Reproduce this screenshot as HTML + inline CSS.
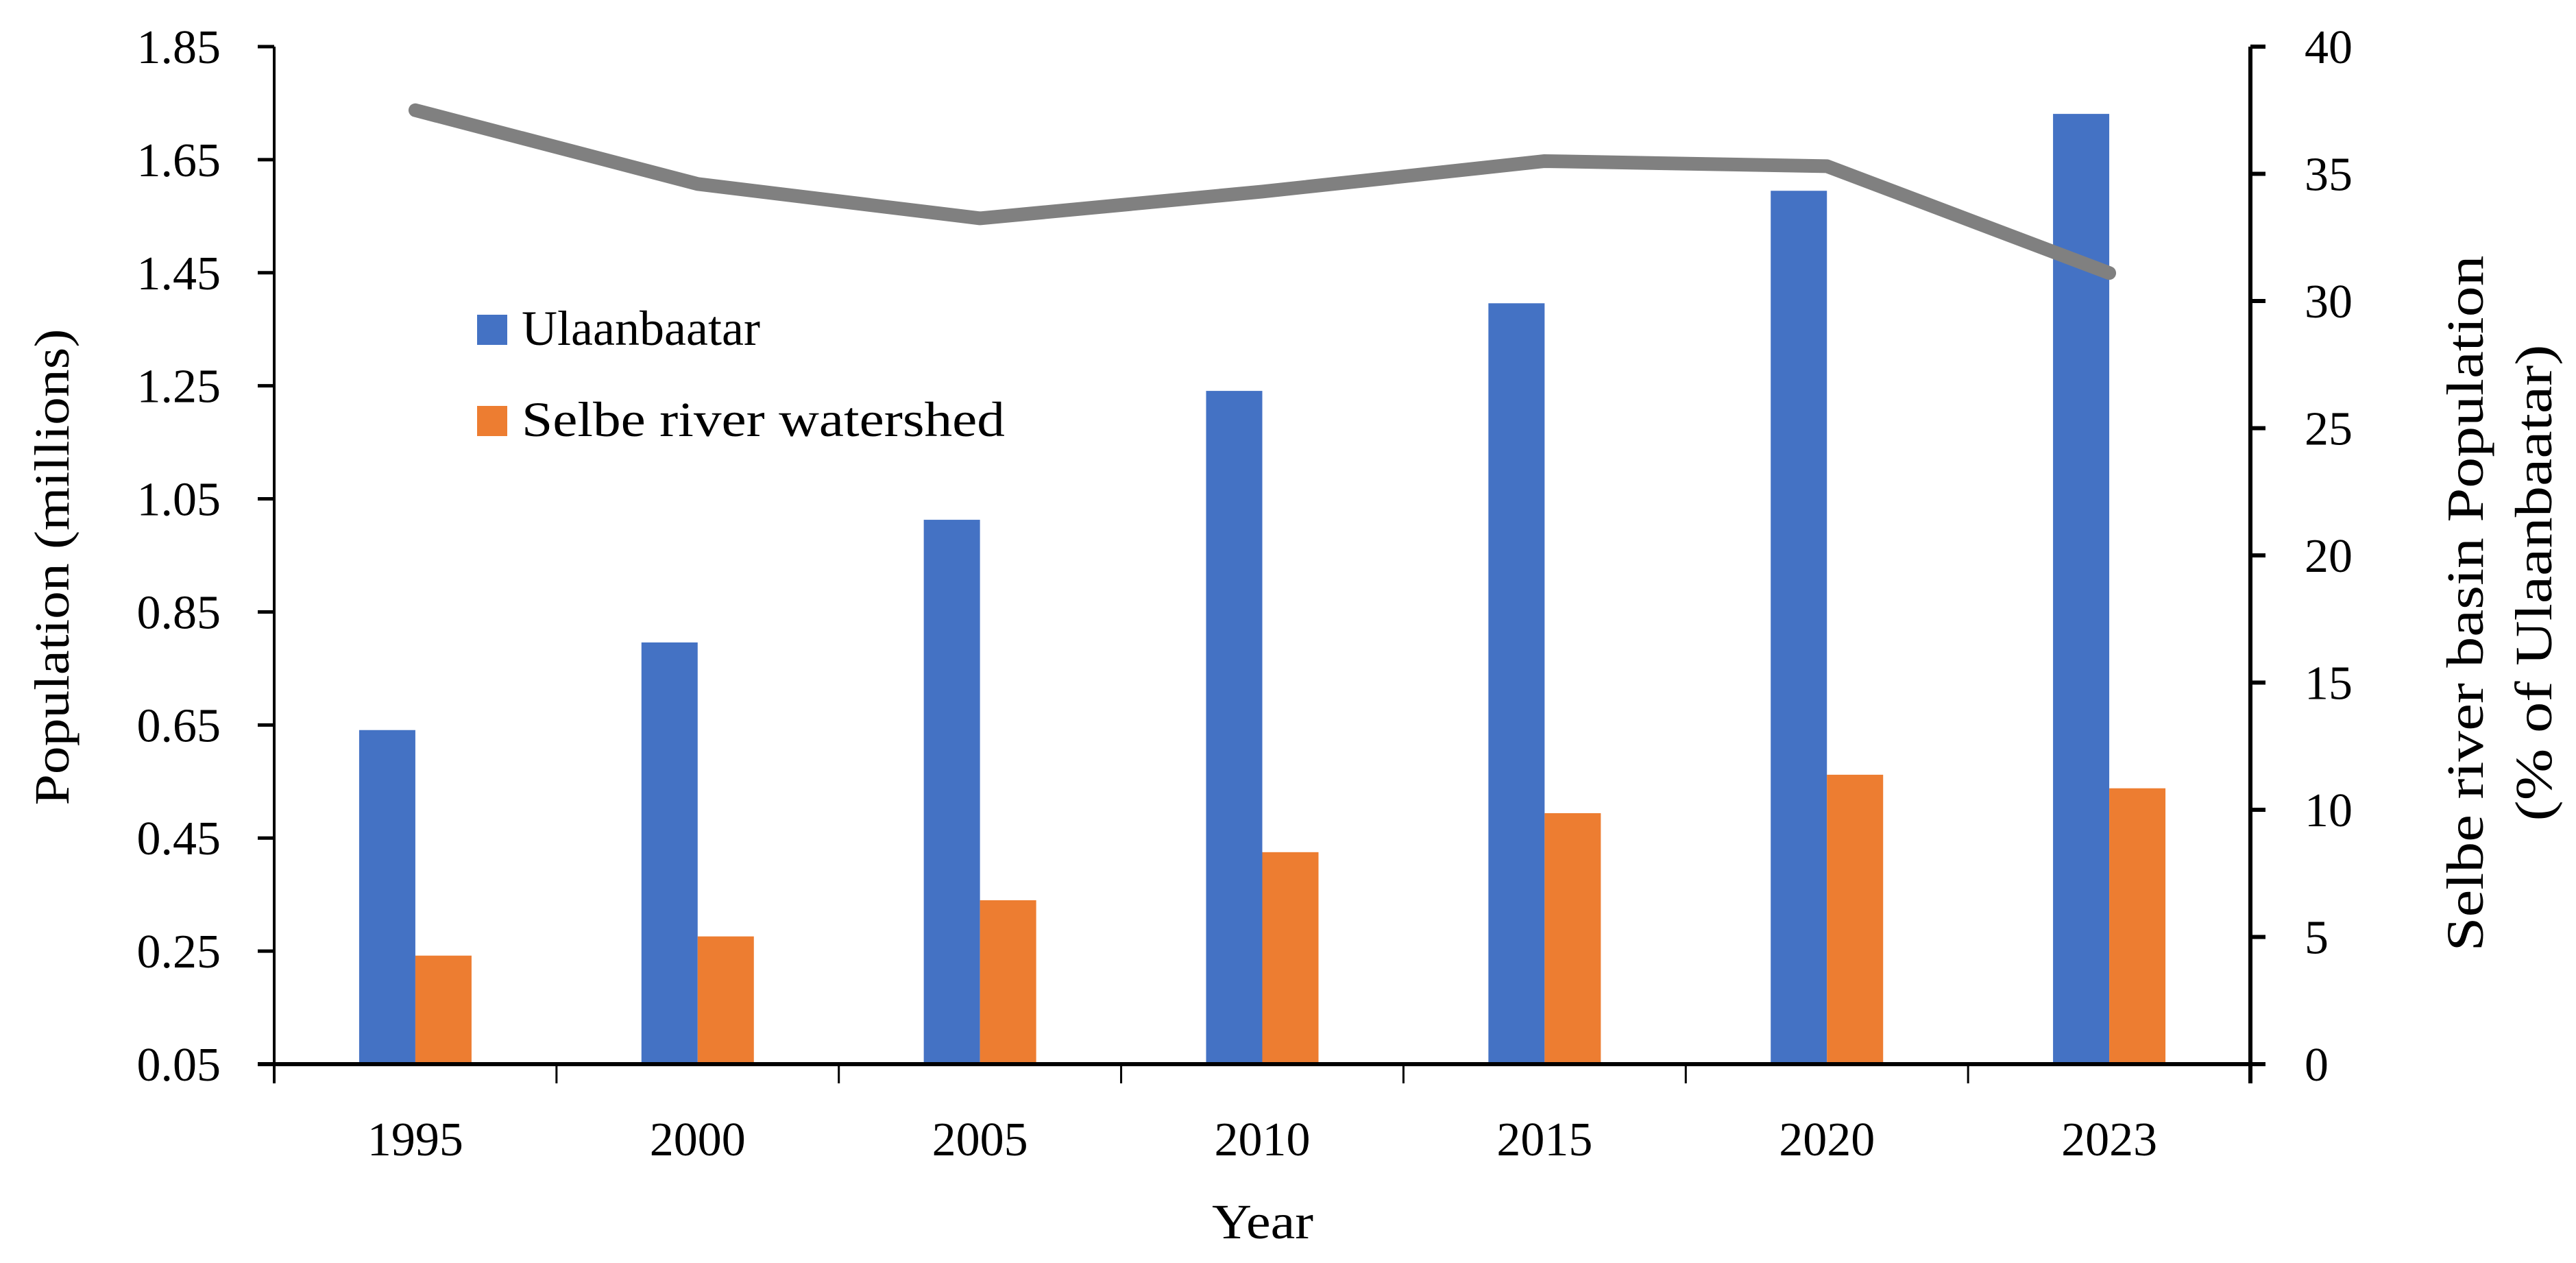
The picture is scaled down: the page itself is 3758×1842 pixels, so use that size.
<!DOCTYPE html>
<html><head><meta charset="utf-8"><style>
html,body{margin:0;padding:0;background:#fff}
svg{display:block}
text{font-family:"Liberation Serif",serif;fill:#000}
</style></head><body>
<svg id="chart" width="3758" height="1842" viewBox="0 0 3758 1842" xmlns="http://www.w3.org/2000/svg">
<g id="bars"></g>
<g id="line"></g>
<g id="axes"></g>
<g>
  <rect x="696" y="459" width="44" height="44" fill="#4472C4"/>
  <text x="761" y="503" font-size="72" textLength="348" lengthAdjust="spacingAndGlyphs">Ulaanbaatar</text>
  <rect x="696" y="592" width="44" height="44" fill="#ED7D31"/>
  <text x="761" y="636" font-size="72" textLength="705" lengthAdjust="spacingAndGlyphs">Selbe river watershed</text>
</g>
<text transform="translate(100,827) rotate(-90)" text-anchor="middle" font-size="72" textLength="695" lengthAdjust="spacingAndGlyphs">Population (millions)</text>
<text transform="translate(3622,880) rotate(-90)" text-anchor="middle" font-size="76" textLength="1015" lengthAdjust="spacingAndGlyphs">Selbe river basin Population</text>
<text transform="translate(3722,850) rotate(-90)" text-anchor="middle" font-size="76" textLength="695" lengthAdjust="spacingAndGlyphs">(% of Ulaanbaatar)</text>
<text x="1842" y="1806" text-anchor="middle" font-size="72" textLength="148" lengthAdjust="spacingAndGlyphs">Year</text>
</svg>
<script>
const categories = ["1995","2000","2005","2010","2015","2020","2023"];
const ulaanbaatar = [0.641,0.796,1.013,1.241,1.396,1.595,1.731];
const selbe = [0.242,0.276,0.340,0.425,0.494,0.562,0.538];
const percent = [37.5,34.6,33.25,34.3,35.5,35.3,31.1];
const leftTicks = ["0.05","0.25","0.45","0.65","0.85","1.05","1.25","1.45","1.65","1.85"];
const rightTicks = ["0","5","10","15","20","25","30","35","40"];

const NS="http://www.w3.org/2000/svg";
const X0=400, X1=3283, Y0=1552, Y1=68;
const yL=v=>Y0-(v-0.05)/1.8*(Y0-Y1);
const yR=v=>Y0-v/40*(Y0-Y1);
const bandW=(X1-X0)/categories.length;
const xC=i=>X0+bandW*(i+0.5);
function mk(tag,attrs,parent){const e=document.createElementNS(NS,tag);for(const k in attrs)e.setAttribute(k,attrs[k]);parent.appendChild(e);return e;}
const gB=document.getElementById('bars'), gL=document.getElementById('line'), gA=document.getElementById('axes');
const bw=82;
categories.forEach((c,i)=>{
  let r=mk('rect',{x:xC(i)-bw,y:yL(ulaanbaatar[i]),width:bw,height:Y0-yL(ulaanbaatar[i]),fill:'#4472C4'},gB);
  
  
  let o=mk('rect',{x:xC(i),y:yL(selbe[i]),width:bw,height:Y0-yL(selbe[i]),fill:'#ED7D31'},gB);
  
  
});
const pts=percent.map((v,i)=>xC(i)+','+yR(v)).join(' ');
const pl=mk('polyline',{points:pts,fill:'none',stroke:'#808080','stroke-width':20,'stroke-linecap':'round','stroke-linejoin':'round'},gL);


let a=mk('line',{x1:X0,y1:Y1,x2:X0,y2:Y0+28,stroke:'#000','stroke-width':4},gA);


a=mk('line',{x1:X1,y1:Y1,x2:X1,y2:Y0+28,stroke:'#000','stroke-width':6},gA);


a=mk('line',{x1:X0-24,y1:Y0,x2:X1+22,y2:Y0,stroke:'#000','stroke-width':6},gA);


leftTicks.forEach((t,i)=>{
  const y=yL(parseFloat(t));
  const l=mk('line',{x1:X0-24,y1:y,x2:X0,y2:y,stroke:'#000','stroke-width':5},gA);
  
  
  const tx=mk('text',{x:322,y:y+24,'text-anchor':'end','font-size':70},gA);
  tx.textContent=t;
  
  
});
rightTicks.forEach((t,i)=>{
  const y=yR(parseFloat(t));
  const l=mk('line',{x1:X1,y1:y,x2:X1+22,y2:y,stroke:'#000','stroke-width':6},gA);
  
  
  const tx=mk('text',{x:3362,y:y+24,'text-anchor':'start','font-size':70},gA);
  tx.textContent=t;
  
  
});
for(let i=0;i<=categories.length;i++){
  const x=X0+bandW*i;
  const l=mk('line',{x1:x,y1:Y0,x2:x,y2:Y0+28,stroke:'#000','stroke-width':3},gA);
  
  
}
categories.forEach((c,i)=>{
  const tx=mk('text',{x:xC(i),y:1685,'text-anchor':'middle','font-size':70},gA);
  tx.textContent=c;
  
  
});
</script>
</body></html>
